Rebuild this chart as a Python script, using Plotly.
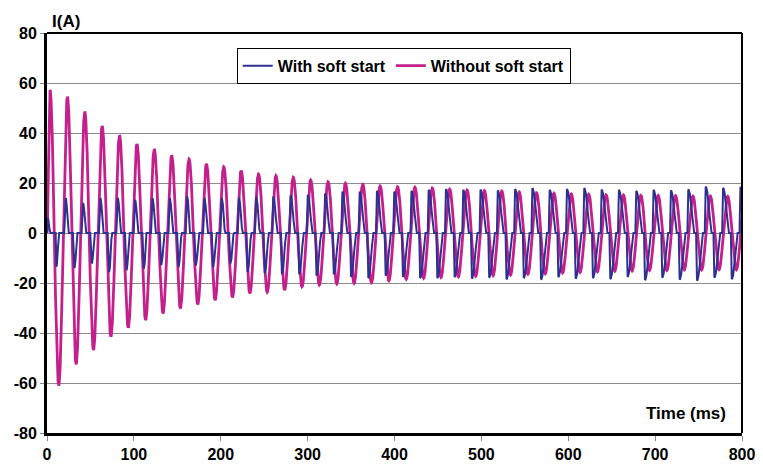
import numpy as np
import plotly.graph_objects as go

# ---------------- data ----------------
period_ms = 20.0
# "Without soft start": positive peaks at 3.5 + 20k ms, negative peaks at 13.5 + 20k ms
mag_pos_t0 = 3.5
mag_neg_t0 = 13.5
mag_pos = [57.2, 54.5, 48.5, 42.8, 39.0, 35.6, 33.5, 31.0, 29.6, 27.6,
           26.5, 24.9, 23.6, 22.9, 22.3, 21.2, 20.5, 19.9, 19.5, 18.8,
           18.5, 18.3, 18.0, 17.5, 17.2, 16.9, 16.8, 16.4, 16.1, 15.9,
           15.6, 15.5, 15.3, 15.2, 15.1, 15.0, 14.9, 14.8, 14.8, 14.7, 14.7]
mag_neg = [-61.0, -52.5, -46.8, -41.5, -37.9, -34.8, -32.1, -30.1, -28.5, -26.8,
           -25.7, -24.1, -23.7, -22.8, -21.5, -20.8, -20.4, -20.1, -19.9, -19.1,
           -18.5, -18.1, -17.8, -17.5, -17.3, -17.0, -16.8, -16.5, -16.3, -16.0,
           -15.8, -15.5, -15.3, -15.2, -15.0, -15.0, -14.8, -14.8, -14.7, -14.7]

# "With soft start": one positive and one negative current pulse per cycle
blue_pos = [6.0, 13.9, 11.9, 13.9, 13.9, 13.2, 13.9, 13.9, 14.6, 13.9,
            13.9, 14.0, 14.5, 14.5, 15.0, 15.2, 15.8, 16.5, 16.5, 16.8,
            16.5, 16.8, 17.2, 17.5, 17.2, 17.3, 17.0, 17.5, 17.9, 17.2,
            17.5, 17.9, 17.3, 17.2, 16.8, 17.2, 17.0, 17.4, 18.5, 18.0, 18.4]
blue_neg = [-13.5, -13.9, -12.1, -15.5, -14.8, -14.1, -12.8, -13.5, -12.8, -13.5,
            -12.1, -15.5, -16.0, -16.5, -16.5, -17.0, -16.5, -17.5, -18.0, -17.0,
            -17.5, -18.0, -18.0, -17.6, -18.2, -17.8, -18.5, -18.0, -18.6, -17.6,
            -18.2, -18.0, -18.4, -17.5, -18.8, -17.8, -18.6, -19.0, -17.8, -18.4]
# peak time offset from 20k ms, rise and fall durations of each pulse (ms)
blue_shift = [0.8, 1.6, 1.6, 1.5, 1.5, 1.4, 1.4, 1.3, 1.2, 1.1,
              1.0, 0.8, 0.6, 0.4, 0.3, 0.2, 0.1, 0.0, -0.1, -0.2,
              -0.3, -0.5, -0.7, -0.8, -0.9, -1.0, -1.1, -1.2, -1.3, -1.4,
              -1.5, -1.6, -1.6, -1.7, -1.7, -1.8, -1.8, -1.8, -1.8, -1.8, -1.8]
blue_rise = [0.8, 1.8, 1.8, 1.7, 1.7, 1.6, 1.6, 1.5, 1.5, 1.4,
             1.4, 1.3, 1.3, 1.2, 1.2, 1.2, 1.1, 1.1, 1.1, 1.0,
             1.0, 1.0, 1.0, 1.0, 1.0, 1.0, 1.0, 1.0, 1.0, 1.0,
             1.0, 1.0, 1.0, 1.0, 1.0, 1.0, 1.0, 1.0, 1.0, 1.0, 1.0]
blue_fall = [2.5, 2.7, 2.8, 2.9, 3.0, 3.1, 3.2, 3.3, 3.4, 3.5,
             3.7, 3.9, 4.1, 4.3, 4.5, 4.7, 4.9, 5.0, 5.1, 5.2,
             5.3, 5.4, 5.5, 5.6, 5.7, 5.8, 5.9, 6.0, 6.0, 6.0,
             6.0, 6.0, 6.0, 6.0, 6.0, 6.0, 6.0, 6.0, 6.0, 6.0, 6.0]

x_ticks = [0, 100, 200, 300, 400, 500, 600, 700, 800]
y_ticks = [-80, -60, -40, -20, 0, 20, 40, 60, 80]
y_tick_labels = ["-80", "-60", "-40", "-20", "0", "20", "40", "60", "80"]
series_names = ["With soft start", "Without soft start"]
colors = ["#2E3192", "#C4208C"]

# ---------------- build waveforms ----------------
t = np.arange(0.0, 800.0001, 0.1)

# magenta: smooth half-cosine between successive extremes
ext_t = [0.0]
ext_v = [0.0]
for k in range(len(mag_neg)):
    ext_t += [mag_pos_t0 + period_ms * k, mag_neg_t0 + period_ms * k]
    ext_v += [mag_pos[k], mag_neg[k]]
ext_t.append(mag_pos_t0 + period_ms * len(mag_neg))
ext_v.append(mag_pos[len(mag_neg)])
ext_t = np.array(ext_t)
ext_v = np.array(ext_v)
idx = np.clip(np.searchsorted(ext_t, t, side="right") - 1, 0, len(ext_t) - 2)
s = (t - ext_t[idx]) / (ext_t[idx + 1] - ext_t[idx])
i_without = ext_v[idx] + (ext_v[idx + 1] - ext_v[idx]) * (1 - np.cos(np.pi * s)) / 2

# blue: zero current with one pulse per half cycle
i_with = np.zeros_like(t)


def add_pulse(tp, peak, rise, fall):
    m1 = (t >= tp - rise) & (t < tp)
    i_with[m1] += peak * np.sin(np.pi / 2 * (t[m1] - (tp - rise)) / rise)
    m2 = (t >= tp) & (t <= tp + fall)
    i_with[m2] += peak * np.cos(np.pi / 2 * (t[m2] - tp) / fall)


for k in range(len(blue_pos)):
    tp = period_ms * k + blue_shift[k]
    add_pulse(tp, blue_pos[k], blue_rise[k], blue_fall[k])
    if k < len(blue_neg):
        add_pulse(tp + period_ms / 2, blue_neg[k], blue_rise[k], blue_fall[k])

# ---------------- figure ----------------
# the page adds an 8 px body margin, so the figure is 8 px smaller each way
FONT = "Liberation Sans, Arial, sans-serif"
fig = go.Figure()
fig.add_trace(go.Scatter(x=t, y=i_without, mode="lines", name=series_names[1],
                         line=dict(color=colors[1], width=2.8), showlegend=False))
fig.add_trace(go.Scatter(x=t, y=i_with, mode="lines", name=series_names[0],
                         line=dict(color=colors[0], width=2.0)))
# legend entry for magenta (drawn after the blue entry)
fig.add_trace(go.Scatter(x=[None], y=[None], mode="lines", name=series_names[1],
                         line=dict(color=colors[1], width=2.8)))

fig.update_layout(
    width=755, height=457,
    margin=dict(l=39, r=21, t=25, b=32, autoexpand=False),
    paper_bgcolor="white", plot_bgcolor="white",
    font=dict(family=FONT, color="black"),
    legend=dict(orientation="h", x=0.273, xanchor="left", y=0.963, yanchor="top",
                bgcolor="white", bordercolor="black", borderwidth=1,
                font=dict(family=FONT, size=16, weight="bold", color="black"),
                itemwidth=30, tracegroupgap=0),
    xaxis=dict(range=[0, 800], tickvals=x_ticks, showgrid=False, zeroline=False,
               automargin=False,
               showline=True, linecolor="black", linewidth=3,
               ticks="outside", ticklen=5, tickcolor="#888888", tickwidth=1,
               tickfont=dict(family=FONT, size=16, weight="bold", color="black")),
    yaxis=dict(range=[-80, 80], tickvals=y_ticks, ticktext=y_tick_labels,
               showgrid=True, gridcolor="#8c8c8c",
               gridwidth=1, zeroline=False, automargin=False,
               showline=True, linecolor="black", linewidth=3,
               ticks="outside", ticklen=4, tickcolor="#888888", tickwidth=1,
               tickfont=dict(family=FONT, size=16, weight="bold", color="black")),
    shapes=[
        dict(type="line", xref="paper", yref="paper", x0=0, x1=1, y0=1, y1=1,
             line=dict(color="black", width=2)),
        dict(type="line", xref="paper", yref="paper", x0=1, x1=1, y0=0, y1=1,
             line=dict(color="black", width=2)),
    ],
    annotations=[
        dict(text="I(A)", xref="paper", yref="paper", x=0.004, y=1.0,
             xanchor="left", yanchor="bottom", showarrow=False, yshift=0,
             font=dict(family=FONT, size=17, weight="bold", color="black")),
        dict(text="Time (ms)", xref="paper", yref="paper", x=0.98, y=0.02,
             xanchor="right", yanchor="bottom", showarrow=False,
             font=dict(family=FONT, size=17, weight="bold", color="black")),
    ],
)

fig.write_html("out.html")
